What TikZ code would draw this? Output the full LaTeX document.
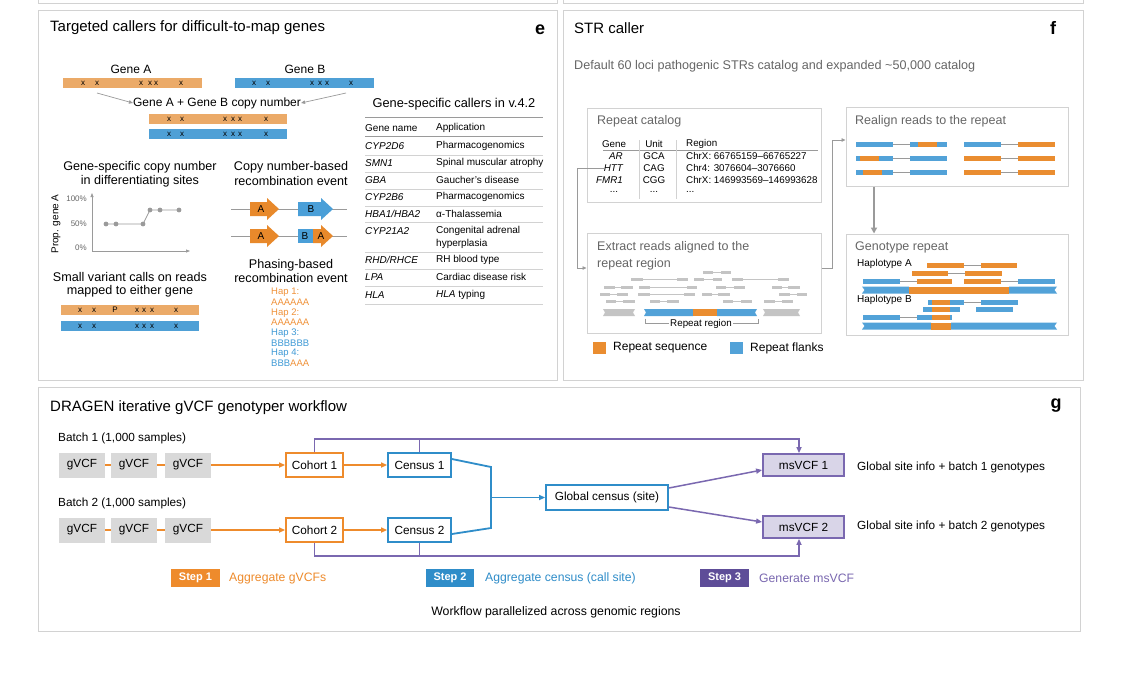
\documentclass[tikz,border=0pt]{standalone}
\usepackage{fontspec}
\setmainfont{Liberation Sans}
\usetikzlibrary{arrows.meta}
\newcommand{\myfs}[1]{\fontsize{#1}{#1}\selectfont}
\definecolor{frmc}{HTML}{D2D2D2}
\definecolor{ltor}{HTML}{EBAA68}
\definecolor{ltbl}{HTML}{4FA0D6}
\definecolor{orA}{HTML}{E8892B}
\definecolor{blB}{HTML}{4A9FD8}
\definecolor{gtxt}{HTML}{666666}
\definecolor{ggray}{HTML}{9A9A9A}
\definecolor{rgr}{HTML}{C4C4C4}
\definecolor{ror}{HTML}{EA8D30}
\definecolor{rbl}{HTML}{52A2D8}
\definecolor{gor}{HTML}{EE8B2C}
\definecolor{gbl}{HTML}{2F8DC9}
\definecolor{gpu}{HTML}{7A68B0}
\definecolor{gpuf}{HTML}{D9D5E8}
\definecolor{gpud}{HTML}{5E4D98}
\definecolor{gvcf}{HTML}{D9D9D9}
\definecolor{hor}{HTML}{F0923A}
\definecolor{hbl}{HTML}{3F9AD6}
\newcommand{\rd}[4]{\fill[#1] (#2,#4-2.5) rectangle (#3,#4+2.5);}
\newcommand{\lk}[3]{\draw[ggray, line width=0.6pt] (#1,#3) -- (#2,#3);}
\newcommand{\gread}[5]{\fill[rgr] (#1,#5-1.5) rectangle (#2,#5+1.5); \draw[rgr, line width=0.6pt] (#2,#5) -- (#3,#5); \fill[rgr] (#3,#5-1.5) rectangle (#4,#5+1.5);}
\begin{document}
\begin{tikzpicture}[x=1pt,y=-1pt,
  frm/.style={draw=frmc, line width=0.9pt},
  lt/.style={inner sep=0pt, anchor=west, font=\myfs{12}},
  ct/.style={inner sep=0pt, font=\myfs{12}},
  sub/.style={inner sep=0pt, font=\myfs{12.6}},
  ptitle/.style={inner sep=0pt, anchor=west, font=\myfs{15}},
  plabel/.style={inner sep=0pt, font=\bfseries\myfs{18}},
  xm/.style={inner sep=0pt, font=\myfs{8}},
  tb/.style={inner sep=0pt, anchor=west, font=\myfs{10}},
  tbi/.style={inner sep=0pt, anchor=west, font=\itshape\myfs{10}},
  sepl/.style={draw=frmc, line width=0.5pt},
  hdl/.style={draw=ggray, line width=0.8pt},
  gtitle/.style={inner sep=0pt, anchor=west, font=\myfs{12.5}, text=gtxt},
  fbox/.style={draw=frmc, line width=1pt, inner sep=0pt},
  ct9/.style={inner sep=0pt, font=\myfs{9.8}},
  hap/.style={inner sep=0pt, anchor=west, font=\myfs{9.5}},
  garr/.style={draw=ggray, line width=0.7pt, -{Triangle[length=4pt,width=3.5pt]}},
  gv/.style={fill=gvcf, minimum width=46pt, minimum height=25pt, inner sep=0pt, font=\myfs{11.8}},
  cbox/.style={draw=gor, line width=1.8pt, fill=white, minimum width=57pt, minimum height=24pt, inner sep=0pt, font=\myfs{11.8}},
  ebox/.style={draw=gbl, line width=1.8pt, fill=white, minimum width=63pt, minimum height=24pt, inner sep=0pt, font=\myfs{11.8}},
  mbox/.style={draw=gpu, line width=1.8pt, fill=gpuf, minimum width=81pt, minimum height=22pt, inner sep=0pt, font=\myfs{11.8}},
  stepbox/.style={inner sep=0pt, minimum height=18pt, text=white, font=\bfseries\myfs{11}},
  gtxtn/.style={inner sep=0pt, anchor=west, font=\myfs{11.8}},
  tipc/.style={-{Triangle[length=6pt,width=5pt]}}
]
\useasboundingbox (0,0) rectangle (1142,686);
\fill[white] (0,0) rectangle (1142,686);

% fragments of panels above
\draw[frm] (38,0) -- (38,3) -- (557,3) -- (557,0);
\draw[frm] (563,0) -- (563,3) -- (1083,3) -- (1083,0);

% ================= panel e =================
\draw[frm] (38,10) rectangle (557,380);
\node[ptitle] (etitle) at (50,28) {Targeted callers for difficult-to-map genes};
\node[plabel] (elab) at (540,30) {e};

\node[ct] (gAl) at (131,69) {Gene A};
\node[ct] (gBl) at (305,69) {Gene B};
\fill[ltor] (63,78) rectangle (202,88);
\fill[ltbl] (235,78) rectangle (374,88);
\foreach \x in {83,97,141,150,156,181} \node[xm] (mA\x) at (\x,83) {x};
\foreach \x in {254,268,312,320,327,351} \node[xm] (mB\x) at (\x,83) {x};
\node[ct] (cn) at (217,103) {Gene A + Gene B copy number};
\coordinate (a1) at (97,93);
\coordinate (a2) at (346,93);
\draw[garr] (a1) -- (cn.west);
\draw[garr] (a2) -- (cn.east);
\fill[ltor] (149,114) rectangle (287,124);
\fill[ltbl] (149,129) rectangle (287,139);
\foreach \x in {169,182,225,233,240,266} {\node[xm] (mC\x) at (\x,119) {x}; \node[xm] (mD\x) at (\x,134) {x};}

% table
\node[inner sep=0pt, font=\myfs{12.8}] (ttitle) at (454,104) {Gene-specific callers in v.4.2};
\draw[hdl] (365,117) -- (543,117);
\node[tb] (th1) at (365,128) {Gene name};
\node[tb] (th2) at (436,128) {Application};
\draw[hdl] (365,136) -- (543,136);
\node[tbi] (r1a) at (365,146) {CYP2D6};   \node[tb] (r1b) at (436,146) {Pharmacogenomics};
\draw[sepl] (365,155) -- (543,155);
\node[tbi] (r2a) at (365,163) {SMN1};     \node[tb] (r2b) at (436,163) {Spinal muscular atrophy};
\draw[sepl] (365,172) -- (543,172);
\node[tbi] (r3a) at (365,180) {GBA};      \node[tb] (r3b) at (436,180) {Gaucher’s disease};
\draw[sepl] (365,189) -- (543,189);
\node[tbi] (r4a) at (365,197) {CYP2B6};   \node[tb] (r4b) at (436,197) {Pharmacogenomics};
\draw[sepl] (365,206) -- (543,206);
\node[tbi] (r5a) at (365,214) {HBA1/HBA2}; \node[tb] (r5b) at (436,214) {α-Thalassemia};
\draw[sepl] (365,222) -- (543,222);
\node[tbi] (r6a) at (365,231) {CYP21A2};  \node[tb] (r6b) at (436,231) {Congenital adrenal};
\node[tb] (r6c) at (436,244) {hyperplasia};
\draw[sepl] (365,252) -- (543,252);
\node[tbi] (r7a) at (365,260) {RHD/RHCE}; \node[tb] (r7b) at (436,260) {RH blood type};
\draw[sepl] (365,269) -- (543,269);
\node[tbi] (r8a) at (365,277) {LPA};      \node[tb] (r8b) at (436,277) {Cardiac disease risk};
\draw[sepl] (365,286) -- (543,286);
\node[tbi] (r9a) at (365,295) {HLA};      \node[tb] (r9b) at (436,295) {\textit{HLA} typing};
\draw[sepl] (365,304) -- (543,304);

% copy number plot
\node[sub] (cp1) at (140,167) {Gene-specific copy number};
\node[sub] (cp2) at (140,181) {in differentiating sites};
\draw[ggray, line width=0.7pt, -{Triangle[length=4pt,width=3pt]}] (92,251) -- (92,193);
\draw[ggray, line width=0.7pt, -{Triangle[length=4pt,width=3pt]}] (92,251) -- (190,251);
\node[inner sep=0pt, anchor=east, font=\myfs{8}, text=gtxt] (y100) at (87,199) {100\%};
\node[inner sep=0pt, anchor=east, font=\myfs{8}, text=gtxt] (y50) at (87,224) {50\%};
\node[inner sep=0pt, anchor=east, font=\myfs{8}, text=gtxt] (y0) at (87,248) {0\%};
\node[inner sep=0pt, rotate=90, font=\myfs{10}] (yl) at (56,224) {Prop. gene A};
\draw[ggray, line width=0.8pt] (106,224) -- (143,224) -- (150,210) -- (179,210);
\foreach \px/\py in {106/224,116/224,143/224,150/210,160/210,179/210} \fill[ggray] (\px,\py) circle (2.4pt);

% small variant calls
\node[sub] (sv1) at (130,277) {Small variant calls on reads};
\node[sub] (sv2) at (130,291) {mapped to either gene};
\fill[ltor] (61,305) rectangle (199,315);
\fill[ltbl] (61,321) rectangle (199,331);
\foreach \x in {80,94,137,144,152,176} {\node[xm] (mE\x) at (\x,310) {x}; \node[xm] (mF\x) at (\x,326) {x};}
\node[xm] (mP) at (115,310) {P};

% recombination
\node[sub] (rc1) at (291,167) {Copy number-based};
\node[sub] (rc2) at (291,181) {recombination event};
\draw[ggray, line width=0.7pt] (231,209) -- (347,209);
\draw[ggray, line width=0.7pt] (231,236) -- (347,236);
\fill[orA] (250,202) -- (267,202) -- (267,198) -- (279,209) -- (267,220) -- (267,216) -- (250,216) -- cycle;
\fill[blB] (298,202) -- (321,202) -- (321,198) -- (333,209) -- (321,220) -- (321,216) -- (298,216) -- cycle;
\fill[orA] (250,229) -- (267,229) -- (267,225) -- (279,236) -- (267,247) -- (267,243) -- (250,243) -- cycle;
\fill[blB] (298,229) rectangle (313,243);
\fill[orA] (313,229) -- (321,229) -- (321,225) -- (333,236) -- (321,247) -- (321,243) -- (313,243) -- cycle;
\node[inner sep=0pt, font=\myfs{10}] (ra1) at (261,209) {A};
\node[inner sep=0pt, font=\myfs{10}] (rb1) at (311,209) {B};
\node[inner sep=0pt, font=\myfs{10}] (ra2) at (261,236) {A};
\node[inner sep=0pt, font=\myfs{10}] (rb2) at (305,236) {B};
\node[inner sep=0pt, font=\myfs{10}] (ra3) at (321,236) {A};

\node[sub] (ph1) at (291,265) {Phasing-based};
\node[sub] (ph2) at (291,278) {recombination event};
\node[hap, text=hor] (h1) at (271,292) {Hap 1:};
\node[hap, text=hor] (h1s) at (271,302) {AAAAAA};
\node[hap, text=hor] (h2) at (271,313) {Hap 2:};
\node[hap, text=hor] (h2s) at (271,322) {AAAAAA};
\node[hap, text=hbl] (h3) at (271,333) {Hap 3:};
\node[hap, text=hbl] (h3s) at (271,343) {BBBBBB};
\node[hap, text=hbl] (h4) at (271,353) {Hap 4:};
\node[hap] (h4s) at (271,363) {\textcolor{hbl}{BBB}\textcolor{hor}{AAA}};

% ================= panel f =================
\draw[frm] (563,10) rectangle (1083,380);
\node[ptitle] (ftitle) at (574,28) {STR caller};
\node[plabel] (flab) at (1053,28) {f};
\node[inner sep=0pt, anchor=west, font=\myfs{12.6}, text=gtxt] (fsub) at (574,66) {Default 60 loci pathogenic STRs catalog and expanded \textasciitilde50,000 catalog};

% repeat catalog
\node[fbox, minimum width=234pt, minimum height=94pt] (cat) at (704,155) {};
\node[gtitle] (catt) at (597,121) {Repeat catalog};
\node[ct9] (chg) at (614,144) {Gene};
\node[ct9] (chu) at (654,144) {Unit};
\node[ct9, anchor=west] (chr) at (686,144) {Region};
\draw[draw=ggray, line width=0.5pt] (603,150.5) -- (818,150.5);
\draw[draw=frmc, line width=0.6pt] (639,140) -- (639,199);
\draw[draw=frmc, line width=0.6pt] (676,140) -- (676,199);
\node[ct9, anchor=east, font=\itshape\myfs{9.8}] (ar) at (623,156) {AR};
\node[ct9, anchor=east, font=\itshape\myfs{9.8}] (htt) at (623,168) {HTT};
\node[ct9, anchor=east, font=\itshape\myfs{9.8}] (fmr) at (623,180) {FMR1};
\node[ct9] (dd1) at (614,192) {...};
\node[ct9] (u1) at (654,156) {GCA};
\node[ct9] (u2) at (654,168) {CAG};
\node[ct9] (u3) at (654,180) {CGG};
\node[ct9] (u4) at (654,192) {...};
\node[ct9, anchor=west] (g1) at (686,156) {ChrX: 66765159–66765227};
\node[ct9, anchor=west] (g2) at (686,168) {Chr4: 3076604–3076660};
\node[ct9, anchor=west] (g3) at (686,180) {ChrX: 146993569–146993628};
\node[ct9, anchor=west] (g4) at (686,192) {...};

% extract box
\node[fbox, minimum width=234pt, minimum height=100pt] (ext) at (704,283) {};
\node[gtitle] (ext1) at (597,247) {Extract reads aligned to the};
\node[gtitle] (ext2) at (597,264) {repeat region};
\gread{703}{713}{721}{731}{272}
\gread{631}{643}{677}{688}{279} \gread{694}{704}{713}{722}{279} \gread{732}{743}{778}{789}{279}
\gread{604}{615}{621}{633}{287} \gread{639}{650}{687}{697}{287} \gread{716}{726}{734}{745}{287} \gread{772}{782}{788}{800}{287}
\gread{600}{610}{617}{628}{294} \gread{638}{650}{684}{695}{294} \gread{702}{712}{718}{730}{294} \gread{779}{790}{797}{807}{294}
\gread{606}{616}{623}{635}{301} \gread{650}{660}{667}{679}{301} \gread{723}{733}{741}{752}{301} \gread{764}{775}{782}{793}{301}
\fill[rgr] (603,309) -- (635,309) -- (633,312.5) -- (635,316) -- (603,316) -- (605,312.5) -- cycle;
\fill[rbl] (644,309) -- (693,309) -- (693,316) -- (644,316) -- (646,312.5) -- cycle;
\fill[ror] (693,309) rectangle (717,316);
\fill[rbl] (717,309) -- (757,309) -- (755,312.5) -- (757,316) -- (717,316) -- cycle;
\fill[rgr] (763,309) -- (800,309) -- (798,312.5) -- (800,316) -- (763,316) -- (765,312.5) -- cycle;
\draw[ggray, line width=0.6pt] (645,318.5) -- (645,323.5) -- (758,323.5) -- (758,318.5);
\node[inner sep=1pt, fill=white, font=\myfs{9.8}] (rr) at (701,323.5) {Repeat region};

% legend
\fill[ror] (593,342) rectangle (606,354);
\node[lt] (lg1) at (613,348) {Repeat sequence};
\fill[rbl] (730,342) rectangle (743,354);
\node[lt] (lg2) at (750,348) {Repeat flanks};

% realign box
\node[fbox, minimum width=222pt, minimum height=79pt] (real) at (957,146.5) {};
\node[gtitle] (realt) at (855,121) {Realign reads to the repeat};
\rd{rbl}{856}{893}{144} \lk{893}{910}{144} \rd{rbl}{910}{918}{144} \rd{ror}{918}{937}{144} \rd{rbl}{937}{947}{144}
\rd{rbl}{964}{1001}{144} \lk{1001}{1018}{144} \rd{ror}{1018}{1055}{144}
\rd{rbl}{856}{860}{158} \rd{ror}{860}{879}{158} \rd{rbl}{879}{893}{158} \lk{893}{910}{158} \rd{rbl}{910}{947}{158}
\rd{ror}{964}{1001}{158} \lk{1001}{1018}{158} \rd{ror}{1018}{1055}{158}
\rd{rbl}{856}{863}{172} \rd{ror}{863}{882}{172} \rd{rbl}{882}{893}{172} \lk{893}{910}{172} \rd{rbl}{910}{947}{172}
\rd{ror}{964}{1001}{172} \lk{1001}{1018}{172} \rd{ror}{1018}{1055}{172}

% genotype box
\node[fbox, minimum width=222pt, minimum height=101pt] (geno) at (957,284.5) {};
\node[gtitle] (genot) at (855,247) {Genotype repeat};
\node[inner sep=0pt, anchor=west, font=\myfs{10}] (hA) at (857,264) {Haplotype A};
\node[inner sep=0pt, anchor=west, font=\myfs{10}] (hB) at (857,300) {Haplotype B};
\rd{ror}{927}{964}{265} \lk{964}{981}{265} \rd{ror}{981}{1017}{265}
\rd{ror}{912}{948}{273} \lk{948}{965}{273} \rd{ror}{965}{1002}{273}
\rd{rbl}{863}{900}{281} \lk{900}{917}{281} \rd{ror}{917}{952}{281}
\rd{ror}{964}{1001}{281} \lk{1001}{1018}{281} \rd{rbl}{1018}{1055}{281}
\fill[rbl] (862,286.5) -- (909,286.5) -- (909,293.5) -- (862,293.5) -- (864.5,290) -- cycle;
\fill[ror] (909,286.5) rectangle (1009,293.5);
\fill[rbl] (1009,286.5) -- (1057,286.5) -- (1054.5,290) -- (1057,293.5) -- (1009,293.5) -- cycle;
\rd{rbl}{928}{932}{302} \rd{ror}{932}{950}{302} \rd{rbl}{950}{964}{302} \lk{964}{981}{302} \rd{rbl}{981}{1018}{302}
\rd{rbl}{923}{932}{309} \rd{ror}{932}{950}{309} \rd{rbl}{950}{960}{309} \rd{rbl}{976}{1013}{309}
\rd{rbl}{863}{900}{317} \lk{900}{917}{317} \rd{rbl}{917}{932}{317} \rd{ror}{932}{950}{317} \rd{rbl}{950}{952}{317}
\fill[rbl] (862,322.5) -- (931,322.5) -- (931,329.5) -- (862,329.5) -- (864.5,326) -- cycle;
\fill[ror] (931,322.5) rectangle (951,329.5);
\fill[rbl] (951,322.5) -- (1057,322.5) -- (1054.5,326) -- (1057,329.5) -- (951,329.5) -- cycle;

% connectors panel f
\coordinate (c1) at (577,268);
\coordinate (c2) at (832,140);
\coordinate (c3) at (874,0);
\draw[garr] (htt.west) -| (c1) -- (c1 -| ext.west);
\draw[garr] (ext.east |- c1) -| (c2) -- (c2 -| real.west);
\draw[draw=ggray, line width=1.6pt, -{Triangle[length=6pt,width=6pt]}] (real.south -| c3) -- (geno.north -| c3);

% ================= panel g =================
\draw[frm] (38,387) rectangle (1080,631);
\node[ptitle] (gtit) at (50,408) {DRAGEN iterative gVCF genotyper workflow};
\node[plabel] (glab) at (1056,406) {g};
\node[gtxtn] (b1) at (58,438) {Batch 1 (1,000 samples)};
\node[gtxtn] (b2) at (58,503) {Batch 2 (1,000 samples)};
\node[gv] (g11) at (82,465) {gVCF};
\node[gv] (g12) at (134,465) {gVCF};
\node[gv] (g13) at (188,465) {gVCF};
\node[gv] (g21) at (82,530) {gVCF};
\node[gv] (g22) at (134,530) {gVCF};
\node[gv] (g23) at (188,530) {gVCF};
\node[cbox] (coh1) at (314.5,465) {Cohort 1};
\node[ebox] (cen1) at (419.5,465) {Census 1};
\node[cbox] (coh2) at (314.5,530) {Cohort 2};
\node[ebox] (cen2) at (419.5,530) {Census 2};
\node[ebox, minimum width=122pt, minimum height=25pt] (glob) at (607,497.5) {Global census (site)};
\node[mbox] (msv1) at (803.5,465) {msVCF 1};
\node[mbox] (msv2) at (803.5,527) {msVCF 2};
\node[gtxtn] (gi1) at (857,467) {Global site info + batch 1 genotypes};
\node[gtxtn] (gi2) at (857,526) {Global site info + batch 2 genotypes};

\draw[gor, line width=1.6pt] (g11) -- (g12) (g12) -- (g13) (g21) -- (g22) (g22) -- (g23);
\draw[gor, line width=1.6pt, tipc] (g13) -- (coh1);
\draw[gor, line width=1.6pt, tipc] (coh1) -- (cen1);
\draw[gor, line width=1.6pt, tipc] (g23) -- (coh2);
\draw[gor, line width=1.6pt, tipc] (coh2) -- (cen2);

\coordinate (j1) at (491,467);
\coordinate (j2) at (491,528);
\coordinate (jm) at (491,497.5);
\draw[gbl, line width=1.8pt] ([yshift=6pt]cen1.east) -- (j1) -- (j2) -- ([yshift=-4pt]cen2.east);
\draw[gbl, line width=1.8pt, tipc] (jm) -- (glob.west);

\coordinate (pt) at (799,439);
\coordinate (pb) at (799,556);
\draw[gpu, line width=1.5pt, tipc] (coh1.north) |- (pt) -- (pt |- msv1.north);
\draw[gpu, line width=1.5pt] (cen1.north) -- (cen1.north |- pt);
\draw[gpu, line width=1.5pt, tipc] (coh2.south) |- (pb) -- (pb |- msv2.south);
\draw[gpu, line width=1.5pt] (cen2.south) -- (cen2.south |- pb);
\draw[gpu, line width=1.5pt, tipc] ([yshift=9.5pt]glob.east) -- ([yshift=-5pt]msv1.west);
\draw[gpu, line width=1.5pt, tipc] ([yshift=-9.5pt]glob.east) -- ([yshift=5pt]msv2.west);

\node[stepbox, fill=gor, minimum width=49pt] (s1) at (195.5,578) {Step 1};
\node[inner sep=0pt, anchor=west, font=\myfs{12.2}, text=gor] (s1t) at (229,578) {Aggregate gVCFs};
\node[stepbox, fill=gbl, minimum width=48pt] (s2) at (450,578) {Step 2};
\node[inner sep=0pt, anchor=west, font=\myfs{12.2}, text=gbl] (s2t) at (485,578) {Aggregate census (call site)};
\node[stepbox, fill=gpud, minimum width=49pt] (s3) at (724.5,578) {Step 3};
\node[inner sep=0pt, anchor=west, font=\myfs{12.2}, text=gpu] (s3t) at (759,578) {Generate msVCF};
\node[inner sep=0pt, font=\myfs{12.3}] (wf) at (556,612) {Workflow parallelized across genomic regions};
\end{tikzpicture}
\end{document}
